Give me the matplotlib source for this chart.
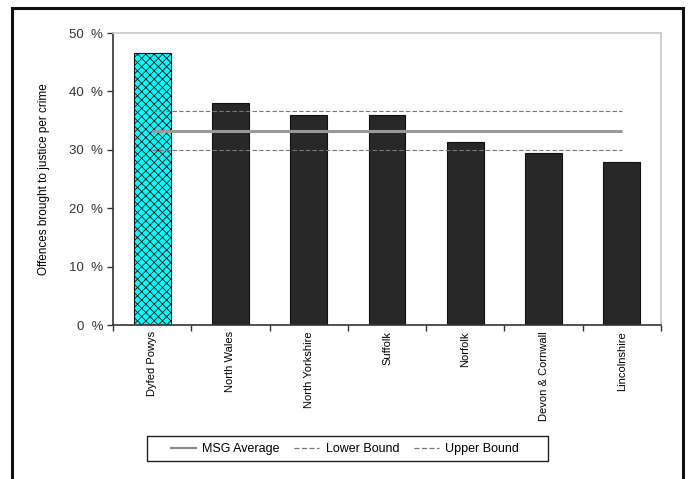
import matplotlib
matplotlib.use("Agg")
import matplotlib.pyplot as plt
from matplotlib.patches import Rectangle
from matplotlib.lines import Line2D
import numpy as np

categories = ["Dyfed Powys", "North Wales", "North Yorkshire", "Suffolk",
              "Norfolk", "Devon & Cornwall", "Lincolnshire"]
values = [46.6, 38.0, 36.0, 36.0, 31.4, 29.4, 27.9]
msg_average = 33.2
lower_bound = 30.0
upper_bound = 36.6
yticks = [0, 10, 20, 30, 40, 50]
ytick_labels = [f"{v}  %" for v in yticks]

sans = ["Liberation Sans", "DejaVu Sans"]
plt.rcParams["hatch.linewidth"] = 0.6

fig = plt.figure(figsize=(6.88, 4.79), dpi=100)
ax = fig.add_axes([113/688, 1-325/479, (661-113)/688, (325-33)/479])

x = np.arange(len(categories))
colors = ["#00ffff"] + ["#282828"] * (len(categories) - 1)
bars = ax.bar(x, values, width=0.47, color=colors, edgecolor="#111111", linewidth=0.8, zorder=2)
bars[0].set_hatch("xxxx")

ax.hlines(msg_average, x[0], x[-1], color="#999999", lw=2.2, zorder=3)
ax.hlines(lower_bound, x[0], x[-1], color="#777777", lw=0.8, ls=(0, (4, 2)), zorder=3)
ax.hlines(upper_bound, x[0], x[-1], color="#777777", lw=0.8, ls=(0, (4, 2)), zorder=3)

ax.set_xlim(-0.5, len(categories) - 0.5)
ax.set_ylim(0, 50)
ax.set_yticks(yticks)
ax.set_yticklabels(ytick_labels, fontfamily=sans, fontsize=9.5, color="#333333")
ax.set_xticks(np.arange(-0.5, len(categories)))
ax.set_xticklabels([])
ax.set_xticks(x, minor=True)
ax.set_xticklabels(categories, minor=True, rotation=90, fontfamily=sans, fontsize=8, va="top", ha="center")
ax.tick_params(axis="x", which="minor", length=0, pad=4.5)
ax.tick_params(axis="x", which="major", length=4, width=1, color="#333333")
ax.tick_params(axis="y", length=4, width=1, color="#333333", pad=3)

for s in ["top", "right"]:
    ax.spines[s].set_color("#c8c8c8")
    ax.spines[s].set_linewidth(1.2)
for s in ["left", "bottom"]:
    ax.spines[s].set_color("#333333")
    ax.spines[s].set_linewidth(1.2)

ax.set_ylabel("Offences brought to justice per crime", fontfamily=sans, fontsize=8.5, labelpad=14)

handles = [Line2D([], [], color="#888888", lw=1.5),
           Line2D([], [], color="#777777", lw=0.9, ls=(0, (4, 2))),
           Line2D([], [], color="#777777", lw=0.9, ls=(0, (4, 2)))]
leg = fig.legend(handles, ["MSG Average", "Lower Bound", "Upper Bound"], ncol=3,
                 loc="center", bbox_to_anchor=(345/688, 1-449/479), frameon=False,
                 prop={"family": sans, "size": 9},
                 handlelength=2.0, columnspacing=1.2, borderpad=0.0, handletextpad=0.5)

fig.patches.append(Rectangle((147/688, 1-461/479), (548-147)/688, 25/479,
                             transform=fig.transFigure, fill=False, edgecolor="#222222", lw=1.0))
fig.patches.append(Rectangle((12/688, -0.02), (683-12)/688, (479-8)/479 + 0.02,
                             transform=fig.transFigure, fill=False, edgecolor="#111111", lw=2.2))

fig.savefig("out.png", dpi=100)
